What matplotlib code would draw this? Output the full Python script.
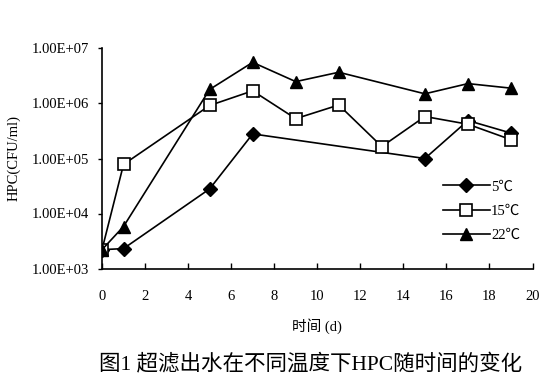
import matplotlib
matplotlib.use("Agg")
import matplotlib.pyplot as plt

plt.rcParams['font.family'] = ['Liberation Serif', 'Noto Sans CJK SC']

# days / HPC (CFU/ml)
t_5 = [0, 1, 5, 7, 15, 17, 19]
hpc_5 = [2200, 2300, 2.8e4, 2.8e5, 1.0e5, 4.9e5, 2.9e5]

t_15 = [0, 1, 5, 7, 9, 11, 13, 15, 17, 19]
hpc_15 = [2200, 7.8e4, 9.2e5, 1.7e6, 5.3e5, 9.4e5, 1.65e5, 5.8e5, 4.2e5, 2.2e5]

t_22 = [0, 1, 5, 7, 9, 11, 15, 17, 19]
hpc_22 = [2200, 5.8e3, 1.8e6, 5.6e6, 2.5e6, 3.7e6, 1.5e6, 2.3e6, 1.9e6]

labels = ['5℃', '15℃', '22℃']
y_ticks = [1e3, 1e4, 1e5, 1e6, 1e7]
y_tick_labels = ['1.00E+03', '1.00E+04', '1.00E+05', '1.00E+06', '1.00E+07']
x_ticks = list(range(0, 21, 2))

fig = plt.figure(figsize=(5.51, 3.81), dpi=100)
ax = fig.add_axes([102 / 551, 1 - 268.5 / 381, 430.5 / 551, 220 / 381])

ax.plot(t_5, hpc_5, color='black', lw=1.2, marker='D', ms=7,
        mfc='black', mec='black', label=labels[0])
ax.plot(t_15, hpc_15, color='black', lw=1.2, marker='s', ms=9,
        mfc='white', mec='black', mew=1.2, label=labels[1])
ax.plot(t_22, hpc_22, color='black', lw=1.2, marker='^', ms=9,
        mfc='black', mec='black', label=labels[2])

ax.set_yscale('log')
ax.set_ylim(1e3, 1e7)
ax.set_xlim(0, 20)
ax.set_yticks(y_ticks)
ax.set_yticklabels(y_tick_labels)
ax.minorticks_off()
ax.set_xticks(x_ticks)

for s in ['top', 'right']:
    ax.spines[s].set_visible(False)
for s in ['left', 'bottom']:
    ax.spines[s].set_linewidth(1.2)

ax.tick_params(axis='x', direction='in', length=4, width=1, labelsize=10.5, pad=15.5)
ax.tick_params(axis='y', direction='out', length=3, width=1, labelsize=10.5, pad=6.5)

ax.set_xlabel('时间 (d)', fontsize=10.5, labelpad=11)
ax.set_ylabel('HPC(CFU/ml)', fontsize=10.5, labelpad=8)

fig.legend(loc='center left', bbox_to_anchor=(443 / 551, 1 - 211 / 381),
           frameon=False, fontsize=10.5, handlelength=3.2, handletextpad=0.1,
           labelspacing=0.75, borderaxespad=0, borderpad=0)

fig.text(0.563, 1 - 364 / 381, '图1 超滤出水在不同温度下HPC随时间的变化',
         ha='center', va='center', fontsize=15.5)

fig.savefig('out.png', dpi=100)
